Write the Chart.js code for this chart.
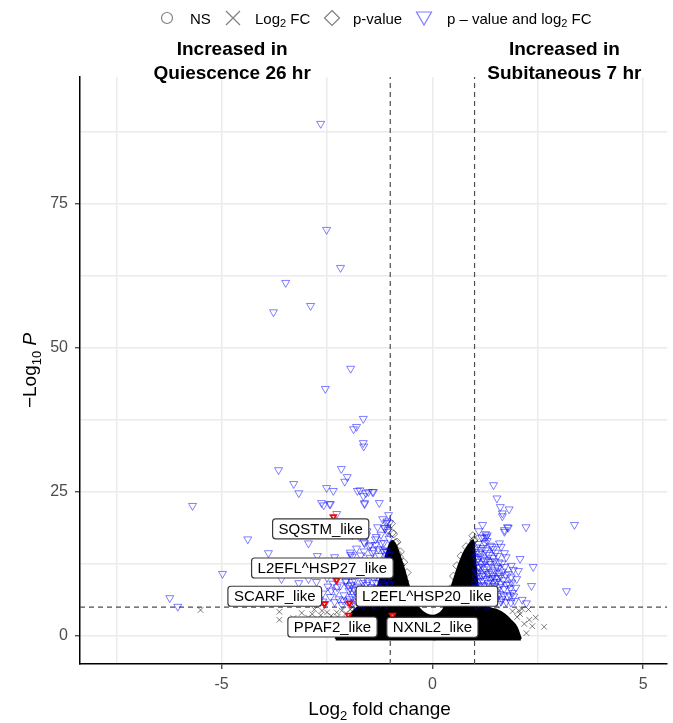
<!DOCTYPE html>
<html><head><meta charset="utf-8">
<script src="https://cdn.jsdelivr.net/npm/chart.js@4.4.1/dist/chart.umd.min.js"></script>
<style>html,body{margin:0;padding:0;background:#fff;}canvas{display:block;}</style>
</head><body>
<canvas id="c" width="673" height="723"></canvas>
<script>
// ---------------- DATA ----------------
const fcCutoff = 1;          // log2 fold-change threshold
const pCutoff = 5;           // -log10 P threshold
const xMajorTicks = [-5, 0, 5];
const xGridTicks = [-7.5, -5, -2.5, 0, 2.5, 5];
const yMajorTicks = [0, 25, 50, 75];
const yGridTicks = [0, 12.5, 25, 37.5, 50, 62.5, 75, 87.5];

// "p - value and log2 FC" significant genes (blue triangles), left side isolated
const bothLeftSparse = [[-2.65,88.9],[-2.51,70.5],[-2.18,63.9],[-3.48,61.3],[-3.77,56.2],[-2.89,57.3],[-1.94,46.4],[-2.54,42.9],[-1.64,37.7],[-1.80,36.3],[-1.87,35.9],[-1.64,33.5],[-1.63,32.9],[-3.65,28.8],[-2.16,29.0],[-2.02,27.6],[-2.08,26.8],[-3.29,26.4],[-3.17,24.8],[-2.35,25.2],[-1.72,25.3],[-1.58,24.8],[-1.42,25.0],[-1.64,24.3],[-5.69,22.6],[-2.58,22.7],[-2.42,22.9],[-1.61,22.9],[-2.27,21.2],[-4.38,16.8],[-2.94,16.1],[-3.89,14.4],[-2.73,13.9],[-2.32,13.7],[-1.94,14.1],[-4.98,10.8],[-3.58,9.9],[-3.17,9.2],[-2.94,9.9],[-6.23,6.6],[-6.04,5.1],[-2.51,25.7],[-1.78,25.2],[-1.52,25.0],[-1.40,25.0],[-1.61,23.1],[-1.26,23.1],[-2.63,23.1],[-2.44,22.9]];
// left dense cluster
const bothLeftDense = [[-1.95,14.5],[-1.8,15.2],[-1.7,14.0],[-1.62,16.3],[-1.5,15.6],[-1.42,14.4],[-1.35,16.8],[-1.28,15.1],[-1.22,17.6],[-1.15,16.2],[-1.1,14.8],[-1.05,18.4],[-1.03,16.9],[-1.08,19.9],[-1.12,18.7],[-1.55,18.2],[-1.85,17.9],[-1.3,18.9],[-1.04,21.0],[-1.18,20.3],
[-1.98,11.8],[-1.9,9.4],[-1.85,12.6],[-1.8,10.7],[-1.76,8.6],[-1.72,13.1],[-1.68,11.2],[-1.64,9.8],[-1.6,12.4],[-1.56,8.9],[-1.52,10.8],[-1.48,13.6],[-1.45,11.9],[-1.42,9.3],[-1.38,12.8],[-1.35,10.4],[-1.32,8.4],[-1.29,11.5],[-1.26,13.9],[-1.24,9.7],[-1.2,12.2],[-1.18,10.9],[-1.15,8.7],[-1.12,11.4],[-1.1,13.3],[-1.08,9.9],[-1.06,12.7],[-1.04,10.5],[-1.02,8.9],[-1.03,14.1],[-1.14,14.6],[-1.4,14.9],[-1.62,14.7],[-1.9,13.8],[-2.1,12.6],[-2.05,9.6],[-1.95,8.3],
[-2.68,6.2],[-2.6,7.4],[-2.55,5.6],[-2.48,8.6],[-2.42,6.8],[-2.36,9.1],[-2.32,5.9],[-2.28,7.7],[-2.22,6.4],[-2.18,8.8],[-2.14,5.4],[-2.1,7.1],[-2.06,9.4],[-2.02,6.0],[-1.98,7.9],[-1.94,5.7],[-1.9,6.8],[-1.86,8.1],[-1.82,5.3],[-1.78,7.2],[-1.74,6.1],[-1.7,8.4],[-1.66,5.5],[-1.62,7.0],[-1.58,6.3],[-1.54,8.0],[-1.5,5.8],[-1.46,7.4],[-1.42,6.5],[-1.38,5.4],[-1.34,7.8],[-1.3,6.0],[-1.26,8.3],[-1.22,5.7],[-1.18,6.9],[-1.14,7.6],[-1.1,5.5],[-1.06,6.6],[-1.03,7.9],[-2.75,9.4],[-2.5,10.1],[-2.3,9.9],[-2.2,11.2],
[-1.09,19.6],[-1.02,19.6],[-1.14,18.8],[-1.07,18.1],[-1.90,17.5],[-1.73,17.2],[-1.56,17.5],[-1.33,17.2],[-1.61,16.1],[-1.47,15.8],[-1.35,15.8],[-1.21,16.1],[-1.18,14.9],[-1.09,14.6],
[-1.97,6.4],[-1.93,8.9],[-1.88,7.4],[-1.84,9.6],[-1.8,6.0],[-1.77,8.0],[-1.73,5.6],[-1.69,7.6],[-1.65,9.2],[-1.61,5.9],[-1.57,7.8],[-1.53,9.5],[-1.49,6.7],[-1.45,8.5],[-1.41,5.6],[-1.37,7.1],[-1.33,9.2],[-1.29,6.4],[-1.25,7.4],[-1.21,9.0],[-1.17,6.1],[-1.13,8.2],[-1.09,7.1],[-1.05,9.4],[-1.01,6.0],[-2.4,7.9],[-2.26,8.5],[-2.12,6.2],[-2.0,8.7],[-2.6,6.0]];
// right side
const bothRightSparse = [[1.45,26.2],[1.53,23.9],[1.61,22.4],[1.82,22.0],[1.66,21.3],[1.66,20.8],[2.22,18.9],[1.80,18.8],[1.71,18.1],[3.37,19.3],[1.19,19.3],[1.30,17.5],[1.23,17.0],[1.42,15.5],[1.59,16.1],[1.63,15.5],[1.75,13.7],[2.08,13.4],[2.39,12.0],[1.87,12.2],[2.04,11.3],[1.87,10.2],[2.35,8.7],[1.85,8.3],[3.18,7.8],[2.13,6.3],[2.23,5.7],[1.75,5.9],[1.71,18.4],[1.78,18.9],[1.26,17.7],[1.28,17.2]];
const bothRightDense = [[1.02,6.1],[1.05,7.8],[1.08,9.5],[1.03,11.2],[1.06,12.9],[1.04,14.6],[1.09,16.0],[1.12,5.6],[1.14,7.2],[1.16,8.8],[1.11,10.4],[1.18,12.1],[1.13,13.8],[1.2,15.3],[1.22,6.4],[1.25,8.1],[1.27,9.9],[1.23,11.6],[1.29,13.2],[1.26,14.9],[1.31,6.9],[1.34,5.4],[1.36,8.6],[1.33,10.8],[1.38,12.5],[1.35,14.1],[1.41,7.5],[1.44,9.3],[1.4,11.1],[1.47,13.0],[1.5,6.2],[1.53,8.0],[1.49,10.0],[1.56,11.8],[1.58,5.6],[1.6,7.3],[1.62,9.1],[1.65,6.4],[1.7,8.2],[1.74,10.6],[1.78,6.9],[1.82,9.0],[1.86,5.8],[1.9,7.5],[1.95,6.1],[1.1,18.2],[1.17,17.1],[1.3,16.5],[1.45,15.1],[1.55,13.9],[1.65,12.6],[1.01,9.0],[1.07,10.9],[1.02,13.7],[1.15,12.5],[1.19,9.6],[1.28,7.4],[1.37,9.8],[1.46,5.9],[1.52,12.1],[1.62,10.4],[2.0,9.9],[1.92,11.5],[1.71,14.4],
[1.03,8.4],[1.09,12.0],[1.05,15.4],[1.12,14.3],[1.21,10.7],[1.24,13.0],[1.32,12.0],[1.39,6.3],[1.43,10.5],[1.48,8.7],[1.57,10.9],[1.68,9.7],[1.04,5.3],[1.15,6.3],[1.27,5.2],
[1.01,7.0],[1.04,10.1],[1.06,6.6],[1.08,13.4],[1.1,8.6],[1.12,11.9],[1.14,15.0],[1.16,7.5],[1.18,10.4],[1.2,13.5],[1.22,8.8],[1.24,16.2],[1.26,6.0],[1.28,11.1],[1.3,14.4],[1.32,9.2],[1.34,7.1],[1.36,12.9],[1.38,15.7],[1.4,8.3],[1.42,10.1],[1.44,13.6],[1.46,6.8],[1.48,11.4],[1.5,14.5],[1.52,9.4],[1.54,7.0],[1.56,10.1],[1.58,12.8],[1.6,8.5],[1.63,6.0],[1.66,11.2],[1.69,7.1],[1.72,12.0],[1.76,8.9],[1.8,10.8],[1.84,7.1],[1.88,9.3],[1.93,6.9],[1.98,8.4]];
// "p-value" only (black diamonds)
const pOnly = [[-0.92,17.7],[-0.95,17.9],[-0.9,15.3],[-0.83,14.4],[-0.78,13.7],[-0.75,12.3],[-0.7,10.2],[-0.6,8.0],[-0.97,19.5],[-0.5,6.2],[0.98,16.5],[0.99,16.7],[0.95,12.8],[0.92,13.2],[0.76,10.9],[0.69,9.2],[0.6,7.4],[0.5,5.9],[0.85,14.8],[-0.88,16.2],
[-0.65,9.5],[-0.55,7.8],[-0.45,6.4],[-0.35,5.3],[0.35,5.2],[0.45,6.5],[0.55,8.0],[0.65,9.9],[0.75,11.6],[0.85,13.4],[0.93,15.6],[-0.85,14.0],[-0.78,12.6],
[0.42,8.2],[0.5,10.4],[0.58,12.2],[0.68,13.9],[0.8,15.5],[0.96,17.4],[-0.6,11.0],[-0.68,12.8],[-0.76,14.6],[-0.84,16.3]];
// "Log2 FC" only (black crosses)
const fcOnly = [[-5.5,4.5],[-3.63,4.2],[-3.63,2.8],[-3.3,3.1],[-3.05,2.2],[-2.85,3.8],[-2.75,1.2],[-2.62,4.4],[-2.52,2.6],[-2.45,0.8],[-2.4,3.5],[-2.33,1.9],[-2.27,4.1],[-2.2,0.6],[-2.15,2.9],[-2.9,0.7],[-3.2,1.5],[-2.05,3.9],[-1.95,4.6],
[-2.4,1.0],[-2.35,2.3],[-2.25,3.3],[-2.15,4.4],[-1.9,5.0],
[-3.1,4.0],[-2.95,3.2],[-2.8,4.6],[-2.7,2.9],[-2.65,3.6],[-2.58,1.8],[-2.5,4.1],[-2.45,3.0],
[2.08,3.8],[2.13,4.7],[2.01,3.3],[2.23,0.5],[2.37,1.7],[2.65,1.6],[1.94,1.0],[2.3,2.8],[2.18,2.1],[1.9,4.3],[2.45,3.2],[2.05,4.4],[2.28,4.6]];
// "NS" (circles) edge points visible around the saturated core
const nsPoints = [[-0.3,0.2],[0.2,0.1],[0.05,-0.2],[-0.1,0.4],[0.4,0.6],[-0.6,0.3],[0.7,0.2]];
// envelope of the saturated (overplotted) core of thousands of genes
const coreX   = [-2.3,-2.15,-2.0,-1.85,-1.7,-1.5,-1.3,-1.15,-1.02,-0.95,-0.87,-0.78,-0.68,-0.58,-0.48,-0.38,-0.25,-0.12,0,0.12,0.25,0.33,0.42,0.52,0.62,0.75,0.88,0.97,1.03,1.1,1.3,1.5,1.7,1.85,2.0,2.1];
const coreTop = [-0.5,1.5,3.2,4.5,5.4,6.5,8.5,12.5,15.8,16.5,15.8,14.0,11.8,9.2,7.0,5.4,4.3,3.7,3.5,3.7,4.5,5.8,7.8,10.0,12.2,14.5,16.0,16.6,12.0,7.0,5.0,4.6,3.8,2.8,1.5,-0.5];
// labelled genes
const labelNames = ['SQSTM_like','L2EFL^HSP27_like','SCARF_like','L2EFL^HSP20_like','PPAF2_like','NXNL2_like'];
const labelX = [-2.35,-2.27,-2.56,-1.97,-1.99,-0.95];
const labelY = [20.7,9.7,5.6,5.7,3.6,3.6];

// ---------------- LAYOUT / STYLE ----------------
const FONT = "'Liberation Sans', Arial, Helvetica, sans-serif";
const labelBoxPos = [[-2.65,18.6],[-2.61,11.8],[-3.74,6.9],[-0.13,6.9],[-2.37,1.56],[0.0,1.5]];
const BLUE = 'rgba(0,0,255,0.5)';
const BLACK = 'rgba(0,0,0,0.5)';
const toXY = a => a.map(p => ({x:p[0], y:p[1]}));
const X_MIN = -8.36, X_MAX = 5.57, Y_MIN = -4.86, Y_MAX = 97;

function fontOf(p,size){
  const s = p.sub ? Math.round(size*0.7) : size;
  return (p.italic?'italic ':'') + (p.bold?'bold ':'') + s + 'px ' + FONT;
}
function richWidth(ctx, parts, size){
  let w=0; for(const p of parts){ ctx.font = fontOf(p,size); w += ctx.measureText(p.t).width; } return w;
}
function drawRich(ctx, parts, x, y, size, align){
  const w = richWidth(ctx, parts, size);
  let cx = align==='center' ? x - w/2 : x;
  ctx.textAlign='left'; ctx.textBaseline='alphabetic';
  for(const p of parts){
    ctx.font = fontOf(p,size);
    ctx.fillText(p.t, cx, y + (p.sub ? size*0.25 : 0));
    cx += ctx.measureText(p.t).width;
  }
}

const decor = {
  id:'decor',
  afterDatasetsDraw(chart){
    const ctx = chart.ctx, xs = chart.scales.x, ys = chart.scales.y;
    ctx.save();
    ctx.font = '15px ' + FONT;
    labelNames.forEach((t,i)=>{
      const cx = xs.getPixelForValue(labelBoxPos[i][0]);
      const cy = ys.getPixelForValue(labelBoxPos[i][1]);
      const w = ctx.measureText(t).width + 12, h = 20;
      ctx.beginPath();
      ctx.roundRect(cx - w/2, cy - h/2, w, h, 3);
      ctx.fillStyle = '#fff'; ctx.fill();
      ctx.lineWidth = 1.2; ctx.strokeStyle = '#3a3a3a'; ctx.stroke();
      ctx.fillStyle = '#000'; ctx.textAlign='center'; ctx.textBaseline='middle';
      ctx.fillText(t, cx, cy + 1);
    });
    ctx.restore();
  },
  afterDraw(chart){
    const ctx = chart.ctx, ca = chart.chartArea, xs = chart.scales.x;
    ctx.save();
    ctx.fillStyle = '#000';
    ctx.font = 'bold 19px ' + FONT; ctx.textAlign='center'; ctx.textBaseline='alphabetic';
    const lx = xs.getPixelForValue(-4.75), rx = xs.getPixelForValue(3.13);
    ctx.fillText('Increased in', lx, 55);
    ctx.fillText('Quiescence 26 hr', lx, 79);
    ctx.fillText('Increased in', rx, 55);
    ctx.fillText('Subitaneous 7 hr', rx, 79);
    drawRich(ctx, [{t:'Log'},{t:'2',sub:true},{t:' fold change'}], (ca.left+ca.right)/2 + 6, 715, 19, 'center');
    ctx.save();
    ctx.translate(36, (ca.top+ca.bottom)/2);
    ctx.rotate(-Math.PI/2);
    drawRich(ctx, [{t:'\u2212Log'},{t:'10',sub:true},{t:' '},{t:'P',italic:true}], 0, 0, 19, 'center');
    ctx.restore();
    // legend
    const ly = 18;
    ctx.lineWidth = 1.2;
    ctx.strokeStyle = BLACK;
    ctx.beginPath(); ctx.arc(167, ly, 5.5, 0, Math.PI*2); ctx.stroke();
    ctx.beginPath(); ctx.moveTo(226,ly-7); ctx.lineTo(240,ly+7); ctx.moveTo(240,ly-7); ctx.lineTo(226,ly+7); ctx.stroke();
    ctx.beginPath(); ctx.moveTo(332,ly-7.5); ctx.lineTo(339.5,ly); ctx.lineTo(332,ly+7.5); ctx.lineTo(324.5,ly); ctx.closePath(); ctx.stroke();
    ctx.strokeStyle = BLUE;
    ctx.beginPath(); ctx.moveTo(416.5,ly-6); ctx.lineTo(431.5,ly-6); ctx.lineTo(424,ly+7); ctx.closePath(); ctx.stroke();
    ctx.fillStyle = '#000';
    drawRich(ctx, [{t:'NS'}], 190, ly+5.5, 15, 'left');
    drawRich(ctx, [{t:'Log'},{t:'2',sub:true},{t:' FC'}], 255, ly+5.5, 15, 'left');
    drawRich(ctx, [{t:'p-value'}], 353, ly+5.5, 15, 'left');
    drawRich(ctx, [{t:'p \u2013 value and log'},{t:'2',sub:true},{t:' FC'}], 447, ly+5.5, 15, 'left');
    ctx.restore();
  }
};

const tri = {pointStyle:'triangle', rotation:180, radius:4.6, borderWidth:1, borderColor:BLUE, backgroundColor:'rgba(0,0,0,0)'};
const datasets = [
  {label:'labelled', data: labelX.map((x,i)=>({x, y:labelY[i]})), pointStyle:'triangle', rotation:180, radius:3.2, borderWidth:1.8, borderColor:'#ff0000', backgroundColor:'rgba(255,255,255,0.6)', order:1},
  Object.assign({label:'both L sparse', data:toXY(bothLeftSparse), order:3}, tri),
  Object.assign({label:'both L dense', data:toXY(bothLeftDense), order:3}, tri),
  Object.assign({label:'both R sparse', data:toXY(bothRightSparse), order:3}, tri),
  Object.assign({label:'both R dense', data:toXY(bothRightDense), order:3}, tri),
  {label:'p', data:toXY(pOnly), pointStyle:'rectRot', radius:4, borderWidth:1, borderColor:BLACK, backgroundColor:'rgba(0,0,0,0)', order:5},
  {label:'fc', data:toXY(fcOnly), pointStyle:'crossRot', radius:4, borderWidth:1, borderColor:BLACK, backgroundColor:'rgba(0,0,0,0)', order:5},
  {label:'ns', data:toXY(nsPoints), pointStyle:'circle', radius:3, borderWidth:1, borderColor:BLACK, backgroundColor:'rgba(0,0,0,0)', order:6},
  {type:'line', label:'core', data: coreX.map((x,i)=>({x, y:coreTop[i]})), showLine:true, borderColor:'#000', borderWidth:2, pointRadius:0, cubicInterpolationMode:'monotone', fill:{value:-0.8}, backgroundColor:'#000', order:8},
  {type:'line', label:'vL', data:[{x:-fcCutoff,y:Y_MIN},{x:-fcCutoff,y:Y_MAX}], showLine:true, borderColor:'#4d4d4d', borderWidth:1.2, borderDash:[5,4], pointRadius:0, fill:false, order:10},
  {type:'line', label:'vR', data:[{x:fcCutoff,y:Y_MIN},{x:fcCutoff,y:Y_MAX}], showLine:true, borderColor:'#4d4d4d', borderWidth:1.2, borderDash:[5,4], pointRadius:0, fill:false, order:10},
  {type:'line', label:'h', data:[{x:X_MIN,y:pCutoff},{x:X_MAX,y:pCutoff}], showLine:true, borderColor:'#4d4d4d', borderWidth:1.2, borderDash:[5,4], pointRadius:0, fill:false, order:10}
];

new Chart(document.getElementById('c'), {
  type:'scatter',
  data:{datasets},
  options:{
    responsive:false, animation:false, devicePixelRatio:1,
    layout:{padding:{top:77, right:5, left:0, bottom:0}},
    plugins:{legend:{display:false}, tooltip:{enabled:false}},
    scales:{
      x:{type:'linear', min:X_MIN, max:X_MAX,
        afterFit(s){ s.height = 59; },
        afterBuildTicks(s){ s.ticks = xGridTicks.map(v=>({value:v})); },
        ticks:{autoSkip:false, maxRotation:0, padding:6, color:'#4d4d4d', font:{size:16, family:FONT},
          callback:(v)=> xMajorTicks.includes(v) ? String(v) : ''},
        grid:{color:'#ebebeb', lineWidth:1.5, tickLength:5, tickWidth:1.2,
          tickColor:(c)=> (c.tick && xMajorTicks.includes(c.tick.value)) ? '#333' : 'rgba(0,0,0,0)'},
        border:{display:true, color:'#000', width:1.5}
      },
      y:{type:'linear', min:Y_MIN, max:Y_MAX,
        afterFit(s){ s.width = 80; },
        afterBuildTicks(s){ s.ticks = yGridTicks.map(v=>({value:v})); },
        ticks:{autoSkip:false, padding:7, color:'#4d4d4d', font:{size:16, family:FONT},
          callback:(v)=> yMajorTicks.includes(v) ? String(v) : ''},
        grid:{color:'#ebebeb', lineWidth:1.5, tickLength:5, tickWidth:1.2,
          tickColor:(c)=> (c.tick && yMajorTicks.includes(c.tick.value)) ? '#333' : 'rgba(0,0,0,0)'},
        border:{display:true, color:'#000', width:1.5}
      }
    }
  },
  plugins:[decor]
});
</script>
</body></html>
